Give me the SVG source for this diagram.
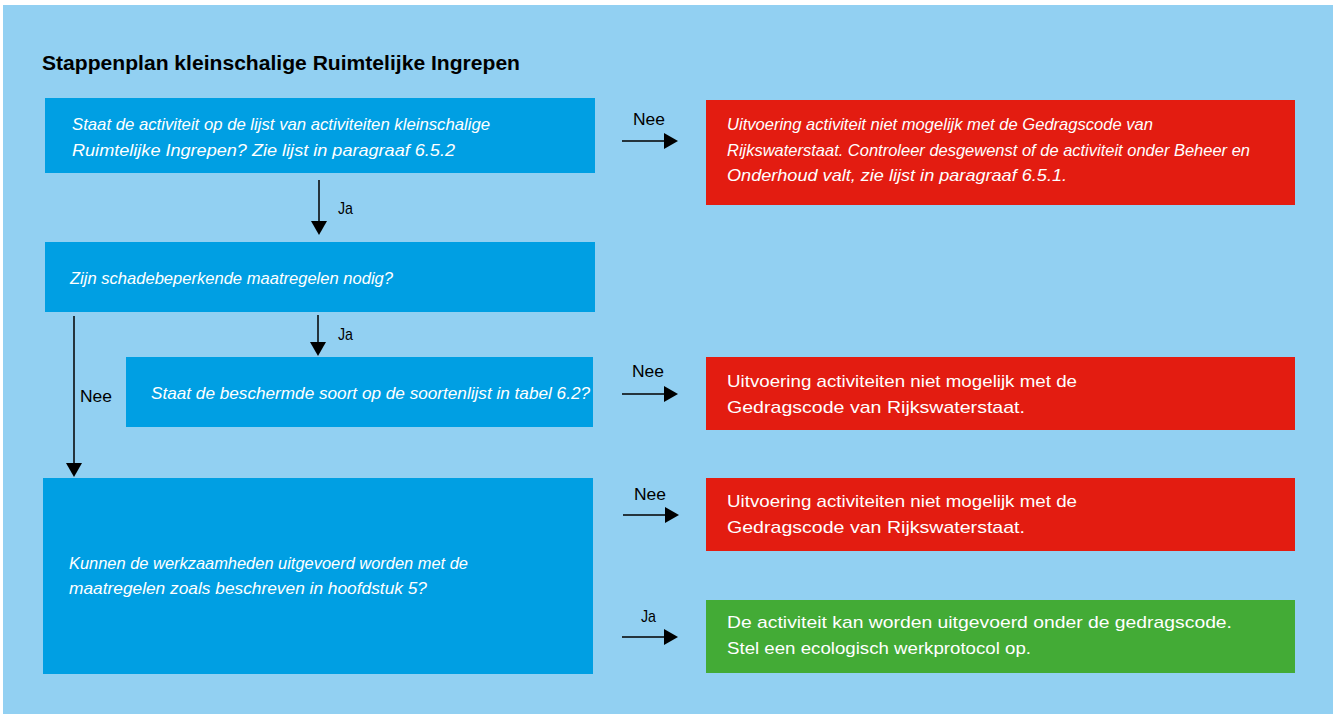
<svg xmlns="http://www.w3.org/2000/svg" width="1333" height="715" viewBox="0 0 1333 715">
<style>
.q{fill:#009FE3}
.r{fill:#E31C11}
.g{fill:#43AB36}
.t{font-family:"Liberation Sans",Arial,sans-serif;font-size:17px;fill:#fff}
.i{font-style:italic}
.l{font-family:"Liberation Sans",Arial,sans-serif;font-size:17px;fill:#000}
.c{stroke:#000;stroke-width:1.5;fill:none;marker-end:url(#ah)}
</style>
<defs>
<marker id="ah" markerUnits="userSpaceOnUse" markerWidth="15" markerHeight="18" refX="1" refY="9" orient="auto">
<path d="M0,1 L14,9 L0,17 Z" fill="#000"/>
</marker>
</defs>
<rect x="3" y="5" width="1330" height="709" fill="#92D0F2"/>
<text x="42" y="70" font-family="Liberation Sans,Arial,sans-serif" font-weight="bold" font-size="20" fill="#000" textLength="478" lengthAdjust="spacingAndGlyphs">Stappenplan kleinschalige Ruimtelijke Ingrepen</text>
<g id="q1">
<rect class="q" x="45" y="98" width="550" height="75"/>
<text class="t i" x="72" y="130" textLength="418" lengthAdjust="spacingAndGlyphs">Staat de activiteit op de lijst van activiteiten kleinschalige</text>
<text class="t i" x="72" y="156" textLength="383" lengthAdjust="spacingAndGlyphs">Ruimtelijke Ingrepen? Zie lijst in paragraaf 6.5.2</text>
</g>
<g id="r1">
<rect class="r" x="706" y="100" width="589" height="105"/>
<text class="t i" x="727" y="130" textLength="426" lengthAdjust="spacingAndGlyphs">Uitvoering activiteit niet mogelijk met de Gedragscode van</text>
<text class="t i" x="727" y="156" textLength="523" lengthAdjust="spacingAndGlyphs">Rijkswaterstaat. Controleer desgewenst of de activiteit onder Beheer en</text>
<text class="t i" x="727" y="181" textLength="340" lengthAdjust="spacingAndGlyphs">Onderhoud valt, zie lijst in paragraaf 6.5.1.</text>
</g>
<g id="q2">
<rect class="q" x="45" y="242" width="550" height="70"/>
<text class="t i" x="70" y="284" textLength="323" lengthAdjust="spacingAndGlyphs">Zijn schadebeperkende maatregelen nodig?</text>
</g>
<g id="q3">
<rect class="q" x="126" y="357" width="467" height="70"/>
<text class="t i" x="151" y="399" textLength="439" lengthAdjust="spacingAndGlyphs">Staat de beschermde soort op de soortenlijst in tabel 6.2?</text>
</g>
<g id="r2">
<rect class="r" x="706" y="357" width="589" height="73"/>
<text class="t" x="727" y="387" textLength="350" lengthAdjust="spacingAndGlyphs">Uitvoering activiteiten niet mogelijk met de</text>
<text class="t" x="727" y="413" textLength="298" lengthAdjust="spacingAndGlyphs">Gedragscode van Rijkswaterstaat.</text>
</g>
<g id="q4">
<rect class="q" x="43" y="478" width="550" height="196"/>
<text class="t i" x="69" y="569" textLength="399" lengthAdjust="spacingAndGlyphs">Kunnen de werkzaamheden uitgevoerd worden met de</text>
<text class="t i" x="69" y="594" textLength="358" lengthAdjust="spacingAndGlyphs">maatregelen zoals beschreven in hoofdstuk 5?</text>
</g>
<g id="r3">
<rect class="r" x="706" y="478" width="589" height="73"/>
<text class="t" x="727" y="507" textLength="350" lengthAdjust="spacingAndGlyphs">Uitvoering activiteiten niet mogelijk met de</text>
<text class="t" x="727" y="533" textLength="298" lengthAdjust="spacingAndGlyphs">Gedragscode van Rijkswaterstaat.</text>
</g>
<g id="g1">
<rect class="g" x="706" y="600" width="589" height="73"/>
<text class="t" x="727" y="628" textLength="505" lengthAdjust="spacingAndGlyphs">De activiteit kan worden uitgevoerd onder de gedragscode.</text>
<text class="t" x="727" y="654" textLength="304" lengthAdjust="spacingAndGlyphs">Stel een ecologisch werkprotocol op.</text>
</g>
<g id="connectors">
<line class="c" x1="622" y1="141" x2="665" y2="141"/>
<text class="l" x="633" y="125" textLength="32" lengthAdjust="spacingAndGlyphs">Nee</text>
<line class="c" x1="319" y1="180" x2="319" y2="222"/>
<text class="l" x="338" y="214" textLength="15" lengthAdjust="spacingAndGlyphs">Ja</text>
<line class="c" x1="318" y1="315" x2="318" y2="343"/>
<text class="l" x="338" y="340" textLength="15" lengthAdjust="spacingAndGlyphs">Ja</text>
<line class="c" x1="74" y1="316" x2="74" y2="464"/>
<text class="l" x="80" y="402" textLength="32" lengthAdjust="spacingAndGlyphs">Nee</text>
<line class="c" x1="622" y1="394" x2="665" y2="394"/>
<text class="l" x="632" y="377" textLength="32" lengthAdjust="spacingAndGlyphs">Nee</text>
<line class="c" x1="623" y1="515" x2="666" y2="515"/>
<text class="l" x="634" y="500" textLength="32" lengthAdjust="spacingAndGlyphs">Nee</text>
<line class="c" x1="622" y1="637" x2="665" y2="637"/>
<text class="l" x="641" y="622" textLength="15" lengthAdjust="spacingAndGlyphs">Ja</text>
</g>
</svg>
